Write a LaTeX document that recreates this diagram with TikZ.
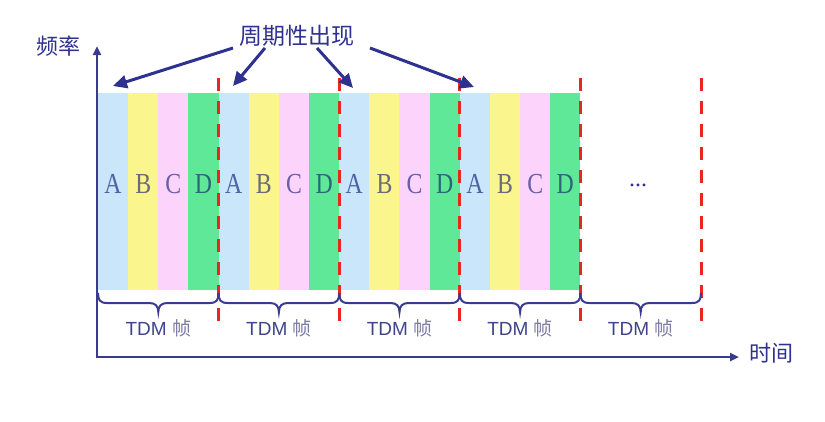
\documentclass[tikz,border=0pt]{standalone}
\usepackage{fontspec}
\setmainfont{Liberation Serif}
\setsansfont{Liberation Sans}
\newfontfamily\cjk{Noto Sans CJK SC}
\usetikzlibrary{arrows.meta}

\definecolor{inkblue}{HTML}{2E3190}
\definecolor{axisblue}{HTML}{3A3A8E}
\definecolor{labelblue}{HTML}{3E4488}
\definecolor{lightgrayblue}{HTML}{7A7AA6}
\definecolor{dashred}{HTML}{E8281E}
\definecolor{slotA}{HTML}{C9E6FA}
\definecolor{slotB}{HTML}{FBF58E}
\definecolor{slotC}{HTML}{FCD3FA}
\definecolor{slotD}{HTML}{5EE898}
\definecolor{letA}{HTML}{4C62A8}
\definecolor{letB}{HTML}{6A6A78}
\definecolor{letC}{HTML}{6A5EA8}
\definecolor{letD}{HTML}{2A6878}

\tikzset{
  slotbox/.style={draw=none, minimum width=30.2pt, minimum height=197pt,
    inner sep=0pt, anchor=center,
    font=\fontsize{29}{29}\selectfont},
  frameline/.style={dashred, line width=3pt, dash pattern=on 13pt off 10pt},
  axisline/.style={axisblue, line width=2.6pt,
    -{Triangle[length=9pt,width=8pt]}},
  pointer/.style={inkblue, line width=3pt,
    -{Triangle[length=14pt,width=13pt]}},
  framebrace/.style={axisblue, line width=2pt},
  framelabel/.style={font=\sffamily\fontsize{19}{19}\selectfont, text=labelblue},
  cjklabel/.style={font=\cjk\fontsize{22}{22}\selectfont, text=inkblue},
}

\begin{document}
\begin{tikzpicture}[x=1pt, y=-1pt]
\useasboundingbox (0,0) rectangle (825,421);

% coloured time slots A-D, four frames
\foreach \f in {0,...,3} {
  \foreach \s/\l in {0/A,1/B,2/C,3/D} {
    \node[slotbox, fill=slot\l, text=let\l] (s\f\l)
      at ({98+120.6*\f+30.15*\s+15.08}, 191.5)
      {\raisebox{-2pt}[0pt][0pt]{\scalebox{0.82}[1]{\l}}};
  }
}

% frame boundaries
\foreach \i in {0,...,5} {
  \coordinate (ft\i) at ({98+120.6*\i}, 78);
  \coordinate (fb\i) at ({98+120.6*\i}, 326);
}
\foreach \i in {1,...,5} {
  \draw[frameline] (ft\i) -- (fb\i);
}

% frame braces and labels
\foreach \i in {0,...,4} {
  \pgfmathsetmacro{\xa}{98+120.6*\i}
  \pgfmathsetmacro{\xm}{\xa+60.3}
  \pgfmathsetmacro{\xb}{\xa+120.6}
  \draw[framebrace] (\xa,293) .. controls (\xa,300) and ({\xa+2},303) .. ({\xa+9},303)
    -- ({\xm-9},303) .. controls ({\xm-3},303) and (\xm,306) .. (\xm,312)
    .. controls (\xm,306) and ({\xm+3},303) .. ({\xm+9},303)
    -- ({\xb-9},303) .. controls ({\xb-2},303) and (\xb,300) .. (\xb,293);
  \node[framelabel] (tdm\i) at (\xm, 328)
    {TDM {\cjk\color{lightgrayblue}帧}};
}

% continuation mark
\node[font=\fontsize{24}{24}\selectfont, text=inkblue, anchor=base, inner sep=0pt]
  (more) at (638,186) {...};

% axes
\coordinate (origin) at (97,357);
\coordinate (ytop) at (97,46);
\coordinate (xend) at (739,357);
\draw[axisline] ([yshift=-1.3pt]origin) -- (ytop);
\draw[axisline] ([xshift=-1.3pt]origin) -- (xend);
\node[cjklabel] (flabel) at (58,46) {频率};
\node[cjklabel] (tlabel) at (771,353) {时间};

% periodic-occurrence callout
\node[cjklabel, font=\cjk\fontsize{23}{23}\selectfont] (title) at (297,36) {周期性出现};
\coordinate (p1) at (233,48);
\coordinate (p2) at (265,48);
\coordinate (p3) at (317,48);
\coordinate (p4) at (370,48);
\coordinate (t1) at (113,86);
\coordinate (t2) at (233,86);
\coordinate (t3) at (353,88);
\coordinate (t4) at (474,87);
\foreach \k in {1,...,4} {
  \draw[pointer] (p\k) -- (t\k);
}
\end{tikzpicture}
\end{document}
